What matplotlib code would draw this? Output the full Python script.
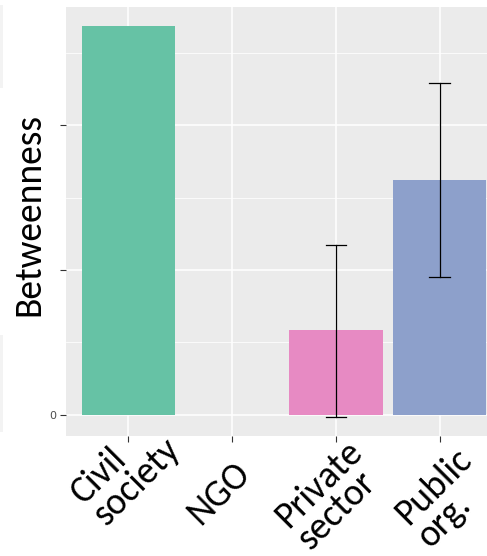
import matplotlib
matplotlib.use('Agg')
import matplotlib.pyplot as plt
import matplotlib.transforms as mtransforms
from matplotlib import font_manager
from matplotlib.patches import Rectangle
import numpy as np

# data (units: one major grid step = 1)
categories = ['Civil\nsociety', 'NGO', 'Private\nsector', 'Public\norg.']
values = [2.68, np.nan, 0.586, 1.62]
err_low = [np.nan, np.nan, -0.014, 0.954]
err_high = [np.nan, np.nan, 1.172, 2.287]
colors = ['#66c2a5', '#fc8d62', '#e78ac3', '#8da0cb']

# label nudges in pixels (right, down) from the tick
label_nudge = [(12, -26), (1, 19), (9, -2), (14, 6)]

installed = {f.name for f in font_manager.fontManager.ttflist}
if 'Carlito' in installed:
    FONT, TICK_SIZE, LAB_SIZE, LSP = 'Carlito', 27, 27, 0.95
else:
    FONT, TICK_SIZE, LAB_SIZE, LSP = 'Lato', 24, 25, 1.15

W, H = 487, 556
fig = plt.figure(figsize=(W / 100, H / 100), dpi=100)
ax = fig.add_axes([66 / W, (H - 436) / H, (502 - 66) / W, (436 - 7) / H])
ax.set_facecolor('#ebebeb')
for s in ax.spines.values():
    s.set_visible(False)

# faint edge of a neighbouring panel on the far left
for y0, y1 in [(5, 88), (335, 432)]:
    fig.patches.append(Rectangle((0, 1 - y1 / H), 2.5 / W, (y1 - y0) / H,
                                 transform=fig.transFigure, color='#f3f3f3', lw=0))

x = np.arange(len(categories))
ax.bar(x, values, width=0.9, color=colors, zorder=2)
for xi, lo, hi in zip(x, err_low, err_high):
    if np.isnan(lo):
        continue
    ax.plot([xi, xi], [lo, hi], color='black', lw=0.9, zorder=3)
    for yv in (lo, hi):
        ax.plot([xi - 0.1, xi + 0.1], [yv, yv], color='black', lw=0.9, zorder=3)

ax.set_xlim(-0.6, 3.6)
ax.set_ylim(-0.145, 2.814)

# grid
ax.set_yticks([0, 1, 2])
ax.set_yticks([0.5, 1.5, 2.5], minor=True)
ax.set_yticklabels(['0', '', ''])
ax.grid(True, which='major', color='white', lw=1.1, zorder=1)
ax.grid(True, which='minor', axis='y', color='white', lw=0.55, zorder=1)
ax.set_axisbelow(True)
ax.tick_params(axis='y', which='minor', length=0)
ax.tick_params(axis='both', which='major', color='#333333', length=4, width=0.8)
ax.tick_params(axis='y', labelsize=8, labelcolor='#4d4d4d', pad=3)

ax.set_xticks(x)
ax.set_xticklabels([])
base = ax.get_xaxis_transform()
for xi, lab, (dx, dy) in zip(x, categories, label_nudge):
    tr = base + mtransforms.ScaledTranslation(dx / 100, -dy / 100, fig.dpi_scale_trans)
    ax.text(xi, 0, lab, transform=tr, rotation=45, rotation_mode='anchor',
            ha='right', va='top', ma='left', fontsize=TICK_SIZE, family=FONT,
            linespacing=LSP, clip_on=False)

fig.text(28.5 / W, 1 - 215 / H, 'Betweenness', rotation=90, ha='center',
         va='center', fontsize=LAB_SIZE, family=FONT)

fig.savefig('out.png', dpi=100)
